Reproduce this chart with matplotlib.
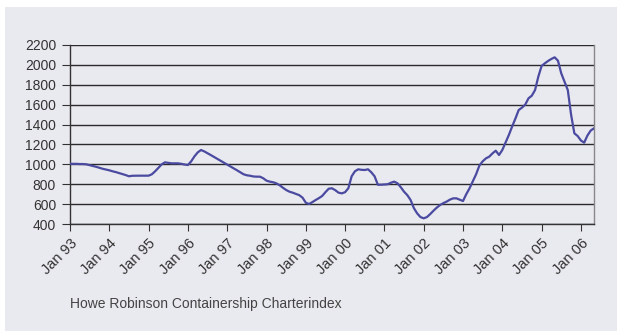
import matplotlib
matplotlib.use("Agg")
import matplotlib.pyplot as plt
import matplotlib.transforms as mtransforms
import numpy as np
from matplotlib.patches import Rectangle

# Monthly index values, Jan 1993 .. May 2006
y1993 = [1005, 1005, 1005, 1003, 1003, 1000, 992, 983, 975, 965, 955, 948]
y1994 = [940, 930, 922, 912, 902, 892, 880, 885, 886, 886, 886, 886]
y1995 = [886, 900, 930, 965, 1000, 1020, 1015, 1010, 1010, 1010, 1005, 998]
y1996 = [993, 1030, 1080, 1120, 1144, 1130, 1112, 1093, 1074, 1055, 1036, 1017]
y1997 = [998, 980, 960, 940, 920, 900, 890, 885, 878, 876, 876, 860]
y1998 = [836, 826, 820, 809, 790, 765, 742, 725, 715, 702, 690, 665]
y1999 = [614, 601, 620, 641, 660, 682, 720, 755, 759, 740, 715, 708]
y2000 = [720, 760, 880, 930, 950, 945, 943, 950, 920, 880, 795, 795]
y2001 = [797, 800, 815, 826, 809, 770, 725, 690, 641, 560, 507, 470]
y2002 = [457, 470, 500, 534, 565, 591, 610, 625, 645, 658, 658, 645]
y2003 = [631, 700, 759, 830, 900, 987, 1030, 1060, 1077, 1110, 1137, 1094]
y2004 = [1144, 1220, 1295, 1380, 1460, 1546, 1570, 1600, 1664, 1690, 1747, 1882]
y2005 = [1989, 2016, 2040, 2060, 2076, 2042, 1915, 1830, 1747, 1500, 1312, 1285]
y2006 = [1240, 1218, 1290, 1340, 1362]

tick_labels = ["Jan 93", "Jan 94", "Jan 95", "Jan 96", "Jan 97", "Jan 98", "Jan 99",
               "Jan 00", "Jan 01", "Jan 02", "Jan 03", "Jan 04", "Jan 05", "Jan 06"]
y_ticks = [400, 600, 800, 1000, 1200, 1400, 1600, 1800, 2000, 2200]

values = (y1993 + y1994 + y1995 + y1996 + y1997 + y1998 + y1999 + y2000 +
          y2001 + y2002 + y2003 + y2004 + y2005 + y2006)
months = np.arange(len(values))

plt.rcParams['font.family'] = ['Liberation Sans', 'DejaVu Sans']

W, H = 617, 331
fig = plt.figure(figsize=(W / 100, H / 100), dpi=100, facecolor="white")
# background panel
bg = Rectangle((5 / W, 0), 1 - 5 / W, 1 - 7 / H, transform=fig.transFigure,
               facecolor="#e9e9f0", edgecolor="none", zorder=-10)
fig.add_artist(bg)

ax = fig.add_axes([70 / W, 1 - 224 / H, (594 - 70) / W, (224 - 45) / H])
ax.set_zorder(5)
ax.set_facecolor("none")
ax.plot(months, values, color="#4a4aa0", lw=1.6, zorder=3)

ax.set_xlim(0, len(values) - 1)
ax.set_ylim(400, 2200)
ax.set_yticks(y_ticks)
ax.set_yticklabels([str(v) for v in y_ticks], fontsize=10, color="#333333")
ax.set_xticks(np.arange(len(tick_labels)) * 12)
ax.set_xticklabels(tick_labels, rotation=45, ha="right", rotation_mode="anchor",
                   fontsize=10.5, color="#333333")
offset = mtransforms.ScaledTranslation(-5 / 100, -2 / 100, fig.dpi_scale_trans)
for lab in ax.get_xticklabels():
    lab.set_transform(lab.get_transform() + offset)
ax.tick_params(axis="x", length=5, width=0.8, color="#333333", pad=4, direction="out")
ax.tick_params(axis="y", length=6, width=0.8, color="#333333", pad=4, direction="out")
ax.yaxis.grid(True, color="#2a2a2a", lw=1.0)
ax.set_axisbelow(True)
for side in ["left", "bottom"]:
    ax.spines[side].set_color("#333333")
    ax.spines[side].set_linewidth(1.0)
ax.spines["right"].set_color("#888888")
ax.spines["right"].set_linewidth(1.0)
ax.spines["top"].set_visible(False)

fig.text(70 / W, 1 - 304 / H, "Howe Robinson Containership Charterindex",
         fontsize=10, color="#444444", ha="left", va="center")

fig.savefig("out.png", dpi=100, facecolor=fig.get_facecolor())
